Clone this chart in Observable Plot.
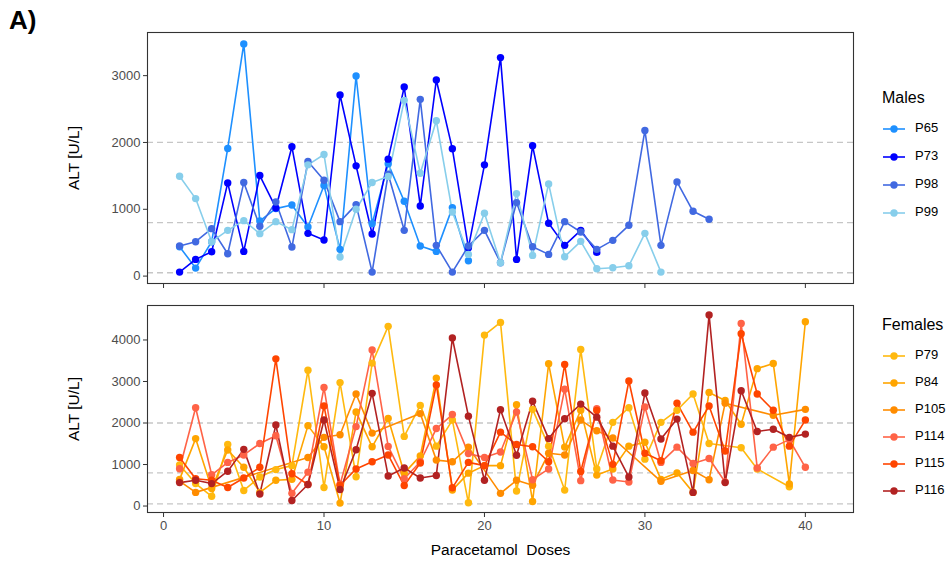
<!DOCTYPE html>
<html><head><meta charset="utf-8">
<script src="https://cdn.jsdelivr.net/npm/d3@7"></script>
<script src="https://cdn.jsdelivr.net/npm/@observablehq/plot@0.6"></script>
<style>
body{margin:0;background:#fff;font-family:"Liberation Sans",Arial,Helvetica,sans-serif;}
#wrap{position:relative;width:952px;height:563px;overflow:hidden;}
#title{position:absolute;left:9px;top:5px;font-weight:bold;font-size:26px;color:#000;}
.plot{position:absolute;left:0;}
.plot svg{overflow:visible;}
.plot g[aria-label="y-axis tick label"], .plot g[aria-label="x-axis tick label"]{fill:#4d4d4d;}
.plot g[aria-label="y-axis tick"], .plot g[aria-label="x-axis tick"]{stroke:#333;}
.plot g[aria-label="y-axis label"], .plot g[aria-label="x-axis label"]{fill:#000;font-size:15.5px;}
.leg{position:absolute;left:882px;color:#000;}
.leg .t{font-size:16px;height:22px;line-height:22px;}
.leg .it{position:absolute;left:0;height:14px;font-size:13px;line-height:14px;white-space:nowrap;}
.leg .it svg{vertical-align:middle;margin-right:9px;}
</style></head>
<body>
<div id="wrap">
  <div id="title">A)</div>
  <div id="top" class="plot" style="top:0"></div>
  <div id="bot" class="plot" style="top:295px"></div>
  <div id="legM" class="leg" style="top:87px"></div>
  <div id="legF" class="leg" style="top:314px"></div>
</div>
<script>
// ---- data ----
const thresholds = [50, 800, 2000];
const xTicks = [0, 10, 20, 30, 40];
const topYTicks = [0, 1000, 2000, 3000];
const botYTicks = [0, 1000, 2000, 3000, 4000];

const maleIds = ["P65", "P73", "P98", "P99"];
const maleColors = ["#1E90FF", "#0000FF", "#4169E1", "#87CEEB"];
const P65 = [440,120,515,1910,3475,825,1010,1065,735,1355,400,2995,785,1680,1120,450,370,1025,230];
const P73 = [60,250,365,1395,370,1505,1020,1935,640,540,2710,1650,630,1750,2830,1050,2935,1905,425,1665,3270,250,1950,790,460,685,355];
const P98 = [450,515,710,335,1400,745,1110,435,1715,1435,815,1070,60,1525,685,2645,460,60,450,685,200,1100,440,325,815,660,400,535,760,2180,460,1410,970,850];
const P99 = [1495,1160,515,685,830,635,815,695,1665,1820,285,1000,1400,1490,2630,1540,2325,960,325,940,200,1235,310,1380,290,520,110,125,155,640,60];

const femaleIds = ["P79", "P84", "P105", "P114", "P115", "P116"];
const femaleColors = ["#FFB90F", "#FFA500", "#FF8C00", "#FF6347", "#FF4500", "#B22222"];
const P79 = [988,541,235,1482,376,698,878,973,3271,447,2973,706,3443,4329,1678,2424,1443,2071,78,4118,4424,361,2329,1443,384,3773,894,2016,2369,1129,2016,2306,2700,1506,null,1404,894,null,463,null];
const P84 = [643,1624,424,1349,933,329,620,643,1937,1427,71,2267,1427,2110,792,1208,3082,384,792,973,973,2439,110,3427,1420,2306,745,894,1443,1537,643,800,329,2737,2541,1969,3310,3435,533,4439];
const P105 = [600,329,null,null,null,null,null,null,1169,1655,1718,2698,1757,null,null,2227,1106,1067,1420,null,306,620,502,1271,1231,2071,1812,1639,null,null,596,null,855,635,2478,null,null,2188,null,2329];
const P114 = [900,2369,753,1051,1231,1506,1694,306,816,2855,518,1914,3757,1435,659,1067,1867,2204,1263,1169,1300,2267,635,894,2816,612,2345,627,580,2384,1051,1419,1027,1145,580,4400,918,1419,1600,933];
const P115 = [1169,659,620,447,675,933,3545,776,518,2408,500,894,1067,1231,494,1035,2918,439,1051,973,1780,1482,1427,1067,3412,831,2300,1004,3012,1271,1090,2478,1780,2408,1325,4149,2698,2306,1443,2071];
const P116 = [565,620,541,839,1365,290,1953,133,518,2071,400,1357,2714,722,918,675,737,4047,2165,620,2322,1224,2525,1624,2102,2455,2141,1443,698,2722,1616,2094,329,4604,565,2776,1796,1851,1655,1733];

// ---- build tables ----
function rows(ids, arrays) {
  const out = [];
  ids.forEach((id, k) => arrays[k].forEach((v, i) => { if (v != null) out.push({id, dose: i + 1, alt: v}); }));
  return out;
}
const males = rows(maleIds, [P65, P73, P98, P99]);
const females = rows(femaleIds, [P79, P84, P105, P114, P115, P116]);

function padDomain(data) {
  const [a, b] = d3.extent(data, d => d.alt);
  const p = (b - a) * 0.05;
  return [a - p, b + p];
}
const font = '"Liberation Sans", Arial, Helvetica, sans-serif';

function panel(data, ids, colors, yTicks, opts) {
  return Plot.plot({
    width: 952,
    height: opts.height,
    marginLeft: 147, marginRight: 99,
    marginTop: opts.mt, marginBottom: opts.mb,
    style: {fontFamily: font, fontSize: "13px", background: "transparent", color: "#000"},
    x: {domain: [-1, 43]},
    y: {domain: padDomain(data)},
    color: {domain: ids, range: colors},
    marks: [
      Plot.ruleY(thresholds, {stroke: "#c6c6c6", strokeDasharray: "6,4", strokeWidth: 1.3}),
      Plot.line(data, {x: "dose", y: "alt", z: "id", stroke: "id", strokeWidth: 1.6}),
      Plot.dot(data, {x: "dose", y: "alt", fill: "id", r: 3.7}),
      Plot.axisY({ticks: yTicks, tickSize: 4, tickPadding: 3, tickFormat: d => String(d),
        label: "ALT [U/L]", labelAnchor: "center", labelArrow: "none", labelOffset: 80}),
      Plot.axisX({ticks: xTicks, tickSize: 5, tickPadding: 3,
        tickFormat: opts.xLabels ? d => String(d) : () => "",
        label: opts.xLabels ? "Paracetamol\u00a0 Doses" : null, labelAnchor: "center", labelArrow: "none", labelOffset: 42}),
      Plot.frame({stroke: "#333", strokeWidth: 1.1})
    ]
  });
}

document.getElementById("top").append(panel(males, maleIds, maleColors, topYTicks, {height: 295, mt: 32, mb: 12, xLabels: false}));
document.getElementById("bot").append(panel(females, femaleIds, femaleColors, botYTicks, {height: 268, mt: 10, mb: 51, xLabels: true}));

// ---- legends ----
function legend(el, title, ids, colors, step) {
  const box = document.getElementById(el);
  const t = document.createElement("div");
  t.className = "t"; t.textContent = title;
  box.append(t);
  ids.forEach((id, i) => {
    const it = document.createElement("div");
    it.className = "it";
    it.style.top = (34 + i * step) + "px";
    it.innerHTML = `<svg width="24" height="14"><line x1="1" x2="23" y1="7" y2="7" stroke="${colors[i]}" stroke-width="1.6"/><circle cx="12" cy="7" r="3.7" fill="${colors[i]}"/></svg>${id}`;
    box.append(it);
  });
}
legend("legM", "Males", maleIds, maleColors, 28);
legend("legF", "Females", femaleIds, femaleColors, 27);
</script>
</body></html>
